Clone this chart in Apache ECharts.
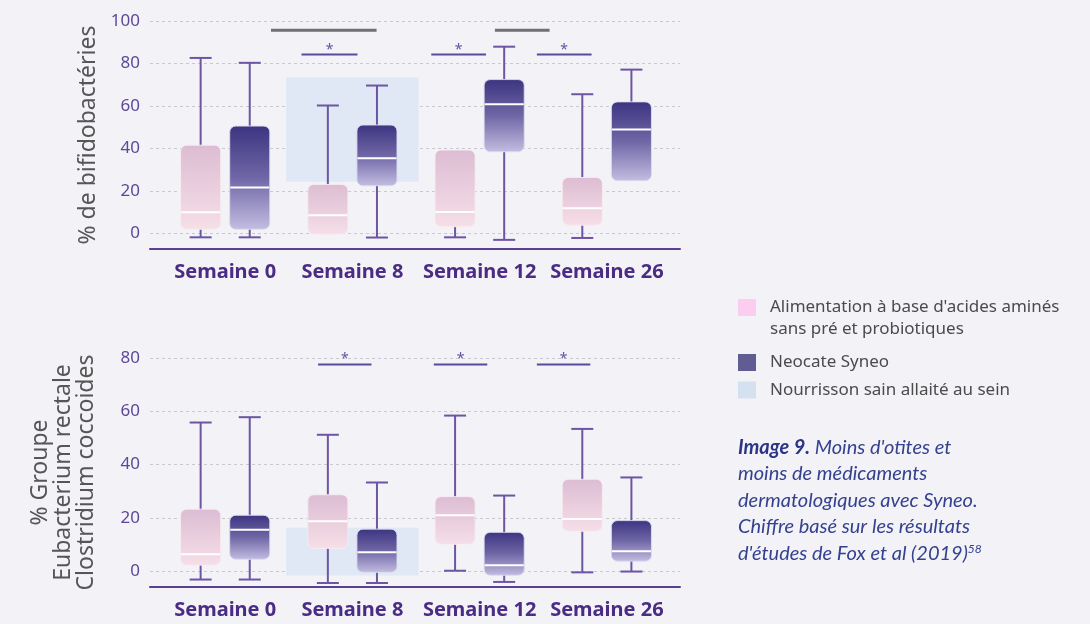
<!DOCTYPE html>
<html lang="fr">
<head>
<meta charset="utf-8">
<title>Bifidobactéries et groupe Eubacterium rectale / Clostridium coccoides</title>
<script src="https://cdn.jsdelivr.net/npm/echarts@6/dist/echarts.min.js"></script>
<style>
  html, body { margin: 0; padding: 0; background: #f3f2f7; }
  #chart { width: 1090px; height: 624px; }
</style>
</head>
<body>
<div id="chart"></div>
<script>
// ---- Données ----
const categories = ['Semaine 0', 'Semaine 8', 'Semaine 12', 'Semaine 26'];

// Boîtes : [moustache basse, Q1, médiane, Q3, moustache haute] par semaine
const bifidoAcides = [
  [-1.9, 1.9, 9.9, 41.5, 82.6],
  [-0.5, -0.5, 8.5, 23.0, 60.2],
  [-1.9, 3.1, 10.0, 39.2, 39.2],
  [-2.2, 3.8, 11.8, 26.3, 65.5]
];
const bifidoSyneo = [
  [-1.9, 1.9, 21.6, 50.5, 80.3],
  [-2.0, 22.4, 35.3, 51.0, 69.6],
  [-3.1, 38.4, 60.8, 72.4, 87.9],
  [24.8, 24.8, 48.9, 61.9, 77.1]
];
// Nourrissons allaités : [index de semaine, bas, haut]
const bifidoSain = [[1, 24.3, 73.4]];

const eubactAcides = [
  [-3.1, 2.3, 6.4, 23.3, 55.8],
  [-4.4, 8.6, 18.8, 28.7, 51.2],
  [0.2, 10.1, 21.0, 28.0, 58.4],
  [-0.4, 15.0, 19.6, 34.5, 53.4]
];
const eubactSyneo = [
  [-3.1, 4.5, 15.6, 21.0, 57.8],
  [-4.4, -0.4, 7.1, 15.8, 33.3],
  [-4.0, -1.5, 2.3, 14.6, 28.4],
  [-0.1, 3.8, 7.5, 19.0, 35.2]
];
const eubactSain = [[1, -1.6, 16.3]];

// Comparaisons : [début, fin (en unités de semaine), niveau, significatif (1) ou non (0)]
const bifidoSignif = [
  [0.36, 1.19, 95.6, 0],
  [2.12, 2.55, 95.6, 0],
  [0.60, 1.04, 84.2, 1],
  [1.62, 2.05, 84.2, 1],
  [2.45, 2.88, 84.2, 1]
];
const eubactSignif = [
  [0.73, 1.15, 77.6, 1],
  [1.64, 2.06, 77.6, 1],
  [2.45, 2.87, 77.6, 1]
];

const seriesNames = [
  "Alimentation à base d'acides aminés sans pré et probiotiques",
  'Neocate Syneo',
  'Nourrisson sain allaité au sein'
];
const firstLegendLines = ["Alimentation à base d'acides aminés", 'sans pré et probiotiques'];

// ---- Styles ----
const WHISKER = '#6c55a3';
const PURPLE_TEXT = '#5d4898';
const CAT_TEXT = '#4a2c84';
const LEGEND_TEXT = { fontSize: 17, color: '#4b4b4b', fontFamily: 'Noto Sans', padding: [0, 0, 0, 9] };
const PINK_STOPS = [{ offset: 0, color: '#dcbcd3' }, { offset: 1, color: '#f6dfe7' }];
const DARK_STOPS = [{ offset: 0, color: '#3c3480' }, { offset: 0.5, color: '#6f66a6' }, { offset: 1, color: '#c3bee1' }];
const BOX_SHIFT = 0.193;
const BOX_W = 0.315;
const CAP = 22;

const withIndex = (rows) => rows.map((r, i) => [i].concat(r));

function boxRenderer(shift, stops, stroke) {
  return function (params, api) {
    const x = api.value(0) + shift;
    const lo = api.value(1), q1 = api.value(2), med = api.value(3), q3 = api.value(4), hi = api.value(5);
    const w = api.size([BOX_W, 0])[0];
    const pLo = api.coord([x, lo]);
    const pQ1 = api.coord([x, q1]);
    const pMed = api.coord([x, med]);
    const pQ3 = api.coord([x, q3]);
    const pHi = api.coord([x, hi]);
    const cx = pQ1[0];
    const ls = { stroke: WHISKER, lineWidth: 2 };
    const children = [
      { type: 'line', shape: { x1: cx, y1: pLo[1], x2: cx, y2: pHi[1] }, style: ls }
    ];
    if (hi > q3) children.push({ type: 'line', shape: { x1: cx - CAP / 2, y1: pHi[1], x2: cx + CAP / 2, y2: pHi[1] }, style: ls });
    if (lo < q1) children.push({ type: 'line', shape: { x1: cx - CAP / 2, y1: pLo[1], x2: cx + CAP / 2, y2: pLo[1] }, style: ls });
    children.push({
      type: 'rect',
      shape: { x: cx - w / 2, y: pQ3[1], width: w, height: pQ1[1] - pQ3[1], r: 6 },
      style: { fill: new echarts.graphic.LinearGradient(0, 0, 0, 1, stops), stroke: stroke, lineWidth: 1 }
    });
    children.push({
      type: 'line',
      shape: { x1: cx - w / 2 + 0.5, y1: pMed[1], x2: cx + w / 2 - 0.5, y2: pMed[1] },
      style: { stroke: '#ffffff', lineWidth: 2 }
    });
    return { type: 'group', children: children };
  };
}

function healthyRenderer(params, api) {
  const c = api.value(0);
  const p1 = api.coord([c - 0.52, api.value(2)]);
  const p2 = api.coord([c + 0.52, api.value(1)]);
  return {
    type: 'rect',
    shape: { x: p1[0], y: p1[1], width: p2[0] - p1[0], height: p2[1] - p1[1] },
    style: { fill: '#dfe8f4' }
  };
}

function signifRenderer(params, api) {
  const a = api.coord([api.value(0), api.value(2)]);
  const b = api.coord([api.value(1), api.value(2)]);
  const starred = api.value(3) === 1;
  const children = [{
    type: 'line',
    shape: { x1: a[0], y1: a[1], x2: b[0], y2: b[1] },
    style: { stroke: starred ? '#5a4a9e' : '#707070', lineWidth: starred ? 2 : 3 }
  }];
  if (starred) {
    children.push({
      type: 'text',
      x: (a[0] + b[0]) / 2,
      y: a[1] - 5,
      style: { text: '*', fill: '#5a56a6', fontSize: 14, fontFamily: 'Noto Sans', align: 'center', verticalAlign: 'middle' }
    });
  }
  return { type: 'group', children: children };
}

function xAxisFor(gridIndex) {
  return {
    type: 'value',
    gridIndex: gridIndex,
    min: -0.591,
    max: 3.575,
    axisLine: { show: true, onZero: false, lineStyle: { color: '#5a3f93', width: 2 } },
    axisTick: { show: false },
    splitLine: { show: false },
    axisLabel: {
      customValues: [0, 1, 2, 3],
      formatter: (v) => categories[Math.round(v)],
      fontSize: 20,
      fontWeight: 'bold',
      color: CAT_TEXT,
      fontFamily: 'Noto Sans',
      margin: 13
    }
  };
}

function yAxisFor(gridIndex, min, max, name, gap) {
  return {
    type: 'value',
    gridIndex: gridIndex,
    min: min,
    max: max,
    splitNumber: 5,
    name: name,
    nameLocation: 'middle',
    nameRotate: 90,
    nameGap: gap,
    nameTextStyle: { fontSize: 23, color: '#565656', fontFamily: 'Noto Sans', lineHeight: 23 },
    axisLine: { show: false, onZero: false },
    axisTick: { show: false },
    axisLabel: { showMinLabel: false, fontSize: 17, color: PURPLE_TEXT, fontFamily: 'Noto Sans', margin: 10 },
    splitLine: { show: true, lineStyle: { color: '#c9c8cf', type: [3, 3], width: 1 } }
  };
}

function panelSeries(idx, acides, syneo, sain, signif) {
  return [
    {
      type: 'custom', name: seriesNames[2], xAxisIndex: idx, yAxisIndex: idx, z: 1,
      renderItem: healthyRenderer, data: sain, encode: { x: 0, y: [1, 2] },
      itemStyle: { color: '#d4e1f0' }, silent: true
    },
    {
      type: 'custom', name: seriesNames[0], xAxisIndex: idx, yAxisIndex: idx, z: 2,
      renderItem: boxRenderer(-BOX_SHIFT, PINK_STOPS, 'rgba(247,236,242,0.9)'),
      data: withIndex(acides), encode: { x: 0, y: [1, 2, 3, 4, 5] },
      itemStyle: { color: '#fbcdf1' }, silent: true
    },
    {
      type: 'custom', name: seriesNames[1], xAxisIndex: idx, yAxisIndex: idx, z: 2,
      renderItem: boxRenderer(BOX_SHIFT, DARK_STOPS, 'rgba(222,218,240,0.9)'),
      data: withIndex(syneo), encode: { x: 0, y: [1, 2, 3, 4, 5] },
      itemStyle: { color: '#615d93' }, silent: true
    },
    {
      type: 'custom', xAxisIndex: idx, yAxisIndex: idx, z: 3,
      renderItem: signifRenderer, data: signif, encode: { x: [0, 1], y: 2 },
      silent: true, clip: false
    }
  ];
}

const caption =
  "{b|Image 9.} Moins d'otites et\n" +
  'moins de médicaments\n' +
  'dermatologiques avec Syneo.\n' +
  'Chiffre basé sur les résultats\n' +
  "d'études de Fox et al (2019){sup|58}";

const chart = echarts.init(document.getElementById('chart'), null, { renderer: 'canvas' });
chart.setOption({
  animation: false,
  backgroundColor: '#f3f2f7',
  grid: [
    { left: 150, width: 530, top: 21, height: 228, containLabel: false, outerBoundsMode: 'none' },
    { left: 150, width: 530, top: 358, height: 229, containLabel: false, outerBoundsMode: 'none' }
  ],
  xAxis: [xAxisFor(0), xAxisFor(1)],
  yAxis: [
    yAxisFor(0, -7.4, 100, '% de bifidobactéries', 50),
    yAxisFor(1, -5.9, 80, '% Groupe\nEubacterium rectale\nClostridium coccoides', 52)
  ],
  legend: [
    {
      orient: 'vertical',
      left: 738,
      top: 299,
      padding: 0,
      icon: 'rect',
      itemWidth: 18,
      itemHeight: 17,
      selectedMode: false,
      data: [{ name: seriesNames[0], itemStyle: { color: '#fbcdf1' } }],
      formatter: () => firstLegendLines[0],
      textStyle: LEGEND_TEXT
    },
    {
      orient: 'vertical',
      left: 738,
      top: 354,
      padding: 0,
      icon: 'rect',
      itemWidth: 18,
      itemHeight: 17,
      itemGap: 10.5,
      selectedMode: false,
      data: [
        { name: seriesNames[1], itemStyle: { color: '#615d93' } },
        { name: seriesNames[2], itemStyle: { color: '#d4e1f0' } }
      ],
      textStyle: LEGEND_TEXT
    }
  ],
  graphic: [
    {
      type: 'text',
      left: 770,
      top: 321,
      style: { text: firstLegendLines[1], fill: '#4b4b4b', fontSize: 17, fontFamily: 'Noto Sans' }
    },
    {
      type: 'text',
      left: 738,
      top: 434,
      style: {
        text: caption,
        fill: '#34418f',
        fontSize: 20,
        fontStyle: 'italic',
        fontFamily: 'Lato',
        lineHeight: 26.5,
        rich: {
          b: { fontWeight: 'bold', fontStyle: 'italic', fontSize: 20, fontFamily: 'Lato', fill: '#2c3585', lineHeight: 26.5 },
          sup: { fontSize: 12, fontStyle: 'italic', fontFamily: 'Lato', fill: '#34418f', verticalAlign: 'top', padding: [3, 0, 0, 0] }
        }
      }
    }
  ],
  series: [].concat(
    panelSeries(0, bifidoAcides, bifidoSyneo, bifidoSain, bifidoSignif),
    panelSeries(1, eubactAcides, eubactSyneo, eubactSain, eubactSignif)
  )
});
</script>
</body>
</html>
